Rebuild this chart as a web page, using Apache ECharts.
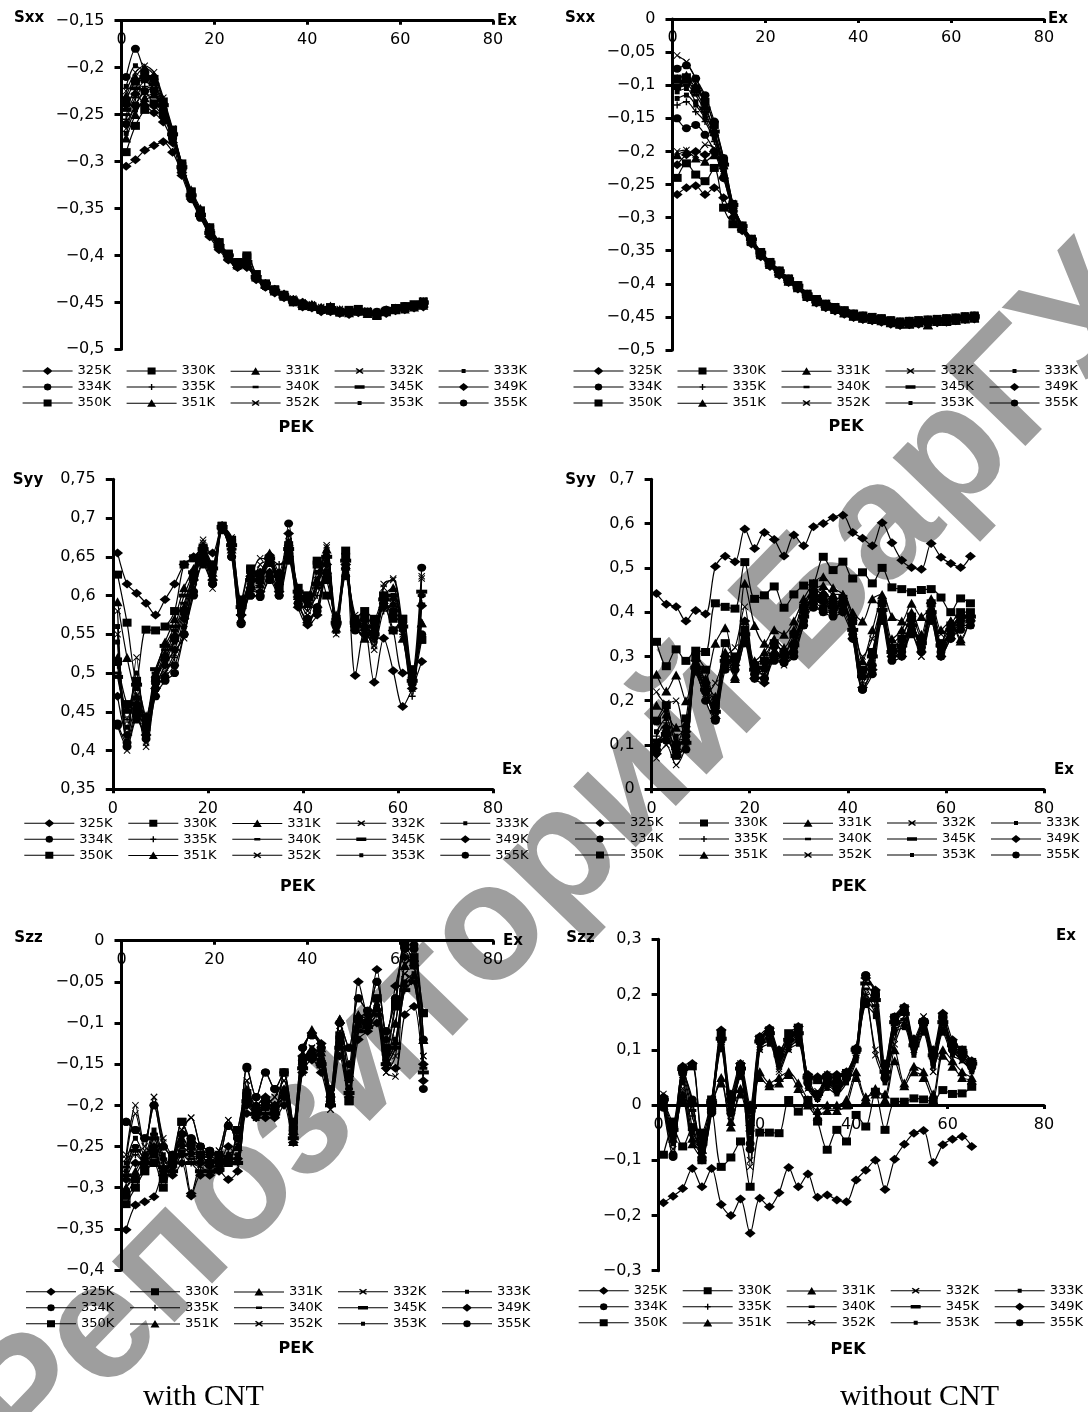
<!DOCTYPE html>
<html>
<head>
<meta charset="utf-8">
<title>Sxx, Syy, Szz vs Ex</title>
<script src="https://cdn.jsdelivr.net/npm/echarts@6/dist/echarts.min.js"></script>
<style>
  html, body { margin: 0; padding: 0; background: #fff; }
  #main { width: 1088px; height: 1412px; }
</style>
</head>
<body>
<div id="main"></div>
<script>
// Ex values of the measured points
var exPoints = [1,3,5,7,9,11,13,15,17,19,21,23,25,27,29,31,33,35,37,39,41,43,45,47,49,51,53,55,57,59,61,63,65];
var seriesNames = ['325K','330K','331K','332K','333K','334K','335K','340K','345K','349K','350K','351K','352K','353K','355K'];

// tick labels
var exTicks = [0, 20, 40, 60, 80];
var sxxWithTicks = [-0.5,-0.45,-0.4,-0.35,-0.3,-0.25,-0.2,-0.15];
var sxxWithoutTicks = [-0.5,-0.45,-0.4,-0.35,-0.3,-0.25,-0.2,-0.15,-0.1,-0.05,0];
var syyWithTicks = [0.35,0.4,0.45,0.5,0.55,0.6,0.65,0.7,0.75];
var syyWithoutTicks = [0,0.1,0.2,0.3,0.4,0.5,0.6,0.7];
var szzWithTicks = [-0.4,-0.35,-0.3,-0.25,-0.2,-0.15,-0.1,-0.05,0];
var szzWithoutTicks = [-0.3,-0.2,-0.1,0,0.1,0.2,0.3];

// Sxx, with CNT (one row per temperature, same order as seriesNames)
var sxxWithCnt = [
  [-0.305,-0.298,-0.288,-0.283,-0.279,-0.29,-0.312,-0.336,-0.355,-0.373,-0.388,-0.4,-0.408,-0.413,-0.422,-0.43,-0.436,-0.441,-0.447,-0.45,-0.453,-0.456,-0.457,-0.46,-0.462,-0.46,-0.461,-0.463,-0.46,-0.458,-0.456,-0.455,-0.452],
  [-0.29,-0.262,-0.245,-0.238,-0.25,-0.272,-0.305,-0.332,-0.352,-0.37,-0.386,-0.398,-0.407,-0.402,-0.42,-0.43,-0.437,-0.444,-0.45,-0.454,-0.455,-0.458,-0.455,-0.46,-0.458,-0.457,-0.46,-0.462,-0.459,-0.456,-0.454,-0.452,-0.449],
  [-0.275,-0.25,-0.232,-0.228,-0.245,-0.268,-0.302,-0.33,-0.35,-0.37,-0.385,-0.4,-0.41,-0.408,-0.423,-0.431,-0.438,-0.442,-0.447,-0.451,-0.454,-0.456,-0.454,-0.458,-0.461,-0.459,-0.462,-0.464,-0.46,-0.458,-0.457,-0.455,-0.453],
  [-0.265,-0.24,-0.226,-0.222,-0.24,-0.27,-0.306,-0.335,-0.356,-0.376,-0.39,-0.403,-0.41,-0.411,-0.424,-0.433,-0.436,-0.443,-0.447,-0.451,-0.453,-0.457,-0.456,-0.458,-0.46,-0.458,-0.459,-0.461,-0.459,-0.457,-0.455,-0.453,-0.45],
  [-0.27,-0.245,-0.235,-0.23,-0.248,-0.274,-0.308,-0.337,-0.358,-0.375,-0.39,-0.401,-0.41,-0.412,-0.425,-0.432,-0.438,-0.444,-0.448,-0.452,-0.455,-0.456,-0.458,-0.459,-0.46,-0.459,-0.46,-0.462,-0.458,-0.457,-0.455,-0.454,-0.452],
  [-0.26,-0.24,-0.225,-0.24,-0.252,-0.276,-0.31,-0.34,-0.36,-0.378,-0.392,-0.404,-0.412,-0.41,-0.423,-0.433,-0.437,-0.442,-0.449,-0.453,-0.454,-0.457,-0.457,-0.46,-0.459,-0.458,-0.461,-0.46,-0.458,-0.456,-0.454,-0.453,-0.45],
  [-0.255,-0.232,-0.22,-0.225,-0.244,-0.272,-0.307,-0.336,-0.357,-0.374,-0.388,-0.401,-0.409,-0.409,-0.422,-0.431,-0.436,-0.443,-0.448,-0.451,-0.453,-0.455,-0.456,-0.459,-0.461,-0.459,-0.46,-0.462,-0.46,-0.457,-0.456,-0.454,-0.451],
  [-0.25,-0.228,-0.215,-0.222,-0.242,-0.27,-0.304,-0.334,-0.355,-0.372,-0.389,-0.402,-0.411,-0.41,-0.424,-0.432,-0.437,-0.443,-0.447,-0.452,-0.454,-0.456,-0.455,-0.458,-0.46,-0.458,-0.459,-0.461,-0.459,-0.458,-0.455,-0.453,-0.451],
  [-0.245,-0.222,-0.21,-0.218,-0.24,-0.271,-0.306,-0.336,-0.357,-0.376,-0.39,-0.4,-0.409,-0.407,-0.423,-0.43,-0.438,-0.444,-0.448,-0.451,-0.455,-0.457,-0.456,-0.459,-0.46,-0.459,-0.461,-0.461,-0.458,-0.457,-0.455,-0.452,-0.45],
  [-0.24,-0.228,-0.24,-0.248,-0.258,-0.28,-0.315,-0.34,-0.358,-0.38,-0.394,-0.405,-0.413,-0.412,-0.426,-0.434,-0.44,-0.445,-0.45,-0.455,-0.456,-0.46,-0.46,-0.462,-0.463,-0.461,-0.462,-0.464,-0.462,-0.459,-0.458,-0.456,-0.455],
  [-0.235,-0.215,-0.21,-0.212,-0.236,-0.266,-0.302,-0.332,-0.356,-0.372,-0.386,-0.399,-0.408,-0.4,-0.42,-0.43,-0.436,-0.442,-0.448,-0.452,-0.454,-0.458,-0.459,-0.461,-0.46,-0.46,-0.461,-0.463,-0.46,-0.458,-0.456,-0.454,-0.452],
  [-0.23,-0.21,-0.2,-0.208,-0.234,-0.268,-0.304,-0.334,-0.354,-0.373,-0.388,-0.401,-0.41,-0.409,-0.422,-0.431,-0.437,-0.443,-0.447,-0.451,-0.452,-0.456,-0.455,-0.458,-0.459,-0.458,-0.46,-0.463,-0.458,-0.456,-0.455,-0.453,-0.449],
  [-0.225,-0.205,-0.198,-0.205,-0.232,-0.265,-0.303,-0.333,-0.356,-0.374,-0.389,-0.4,-0.41,-0.41,-0.423,-0.432,-0.437,-0.441,-0.446,-0.45,-0.452,-0.455,-0.455,-0.457,-0.459,-0.457,-0.459,-0.46,-0.458,-0.456,-0.454,-0.452,-0.448],
  [-0.22,-0.198,-0.205,-0.215,-0.238,-0.27,-0.305,-0.335,-0.355,-0.373,-0.39,-0.402,-0.41,-0.409,-0.424,-0.431,-0.436,-0.443,-0.447,-0.452,-0.453,-0.456,-0.456,-0.459,-0.46,-0.458,-0.46,-0.461,-0.459,-0.457,-0.455,-0.453,-0.45],
  [-0.21,-0.18,-0.205,-0.225,-0.245,-0.273,-0.309,-0.338,-0.358,-0.376,-0.391,-0.403,-0.411,-0.411,-0.424,-0.433,-0.438,-0.443,-0.448,-0.452,-0.454,-0.457,-0.457,-0.459,-0.461,-0.459,-0.46,-0.462,-0.459,-0.457,-0.455,-0.454,-0.452]
];

// Sxx, without CNT
var sxxWithoutCnt = [
  [-0.265,-0.255,-0.252,-0.265,-0.255,-0.27,-0.3,-0.318,-0.338,-0.357,-0.372,-0.386,-0.397,-0.407,-0.42,-0.428,-0.435,-0.44,-0.445,-0.45,-0.453,-0.455,-0.457,-0.46,-0.462,-0.461,-0.46,-0.459,-0.458,-0.456,-0.455,-0.453,-0.452],
  [-0.24,-0.218,-0.235,-0.245,-0.225,-0.285,-0.31,-0.316,-0.337,-0.356,-0.371,-0.384,-0.396,-0.406,-0.419,-0.427,-0.434,-0.439,-0.444,-0.449,-0.452,-0.454,-0.456,-0.459,-0.461,-0.46,-0.459,-0.458,-0.457,-0.456,-0.454,-0.452,-0.45],
  [-0.09,-0.085,-0.1,-0.13,-0.17,-0.22,-0.28,-0.313,-0.334,-0.354,-0.369,-0.382,-0.394,-0.404,-0.417,-0.426,-0.432,-0.437,-0.443,-0.447,-0.45,-0.453,-0.455,-0.458,-0.46,-0.461,-0.458,-0.462,-0.456,-0.457,-0.455,-0.452,-0.451],
  [-0.2,-0.198,-0.205,-0.19,-0.195,-0.23,-0.282,-0.314,-0.335,-0.355,-0.37,-0.383,-0.395,-0.405,-0.418,-0.425,-0.433,-0.438,-0.443,-0.448,-0.451,-0.452,-0.455,-0.457,-0.459,-0.458,-0.457,-0.456,-0.455,-0.454,-0.453,-0.451,-0.45],
  [-0.12,-0.115,-0.13,-0.15,-0.18,-0.225,-0.284,-0.315,-0.336,-0.355,-0.37,-0.383,-0.395,-0.405,-0.418,-0.426,-0.433,-0.438,-0.443,-0.448,-0.451,-0.453,-0.455,-0.458,-0.46,-0.459,-0.458,-0.457,-0.456,-0.455,-0.454,-0.452,-0.451],
  [-0.15,-0.165,-0.16,-0.175,-0.2,-0.24,-0.288,-0.317,-0.337,-0.357,-0.372,-0.385,-0.397,-0.406,-0.419,-0.427,-0.434,-0.44,-0.444,-0.449,-0.452,-0.454,-0.456,-0.459,-0.461,-0.46,-0.459,-0.458,-0.457,-0.456,-0.455,-0.453,-0.452],
  [-0.13,-0.125,-0.14,-0.155,-0.185,-0.23,-0.285,-0.315,-0.335,-0.355,-0.37,-0.383,-0.395,-0.405,-0.418,-0.426,-0.433,-0.438,-0.443,-0.448,-0.451,-0.453,-0.455,-0.458,-0.46,-0.459,-0.458,-0.457,-0.456,-0.455,-0.454,-0.452,-0.451],
  [-0.105,-0.1,-0.115,-0.14,-0.175,-0.225,-0.283,-0.314,-0.334,-0.354,-0.369,-0.382,-0.394,-0.404,-0.417,-0.425,-0.432,-0.437,-0.442,-0.447,-0.45,-0.452,-0.454,-0.457,-0.459,-0.458,-0.457,-0.456,-0.455,-0.454,-0.453,-0.451,-0.45],
  [-0.1,-0.095,-0.11,-0.135,-0.17,-0.22,-0.281,-0.313,-0.333,-0.353,-0.368,-0.381,-0.393,-0.403,-0.416,-0.424,-0.431,-0.436,-0.441,-0.446,-0.449,-0.451,-0.453,-0.456,-0.458,-0.457,-0.456,-0.455,-0.454,-0.453,-0.452,-0.45,-0.449],
  [-0.22,-0.205,-0.2,-0.205,-0.2,-0.24,-0.29,-0.32,-0.34,-0.359,-0.374,-0.387,-0.398,-0.408,-0.421,-0.429,-0.436,-0.441,-0.446,-0.451,-0.454,-0.456,-0.458,-0.461,-0.463,-0.462,-0.461,-0.46,-0.459,-0.458,-0.456,-0.454,-0.453],
  [-0.09,-0.088,-0.105,-0.125,-0.16,-0.215,-0.28,-0.312,-0.332,-0.352,-0.367,-0.38,-0.392,-0.402,-0.415,-0.423,-0.43,-0.435,-0.44,-0.445,-0.448,-0.45,-0.452,-0.455,-0.457,-0.456,-0.455,-0.454,-0.453,-0.452,-0.451,-0.449,-0.448],
  [-0.205,-0.2,-0.21,-0.215,-0.205,-0.235,-0.286,-0.316,-0.336,-0.356,-0.371,-0.384,-0.396,-0.406,-0.419,-0.427,-0.434,-0.439,-0.444,-0.449,-0.452,-0.454,-0.456,-0.459,-0.461,-0.46,-0.459,-0.462,-0.457,-0.456,-0.455,-0.453,-0.452],
  [-0.055,-0.065,-0.09,-0.12,-0.16,-0.21,-0.278,-0.311,-0.331,-0.351,-0.366,-0.379,-0.391,-0.401,-0.414,-0.422,-0.429,-0.434,-0.439,-0.444,-0.447,-0.449,-0.451,-0.454,-0.456,-0.455,-0.454,-0.453,-0.452,-0.451,-0.45,-0.448,-0.447],
  [-0.11,-0.105,-0.125,-0.145,-0.175,-0.228,-0.284,-0.315,-0.335,-0.355,-0.37,-0.383,-0.395,-0.405,-0.418,-0.426,-0.433,-0.438,-0.443,-0.448,-0.451,-0.453,-0.455,-0.458,-0.46,-0.459,-0.458,-0.457,-0.456,-0.455,-0.454,-0.452,-0.451],
  [-0.075,-0.07,-0.09,-0.115,-0.155,-0.21,-0.279,-0.312,-0.332,-0.352,-0.367,-0.38,-0.392,-0.402,-0.415,-0.423,-0.43,-0.435,-0.44,-0.445,-0.448,-0.45,-0.452,-0.455,-0.457,-0.456,-0.455,-0.454,-0.453,-0.452,-0.451,-0.449,-0.448]
];

// Syy, with CNT
var syyWithCnt = [
  [0.655,0.615,0.603,0.59,0.575,0.595,0.615,0.64,0.65,0.66,0.655,0.69,0.665,0.575,0.625,0.63,0.652,0.63,0.68,0.598,0.565,0.585,0.64,0.565,0.645,0.497,0.56,0.488,0.545,0.503,0.457,0.48,0.515],
  [0.627,0.565,0.49,0.556,0.555,0.56,0.58,0.64,0.648,0.662,0.64,0.69,0.672,0.59,0.633,0.62,0.645,0.61,0.66,0.6,0.6,0.645,0.62,0.57,0.658,0.565,0.57,0.55,0.6,0.555,0.57,0.49,0.543],
  [0.592,0.52,0.47,0.445,0.5,0.54,0.57,0.61,0.635,0.665,0.625,0.685,0.66,0.57,0.61,0.615,0.655,0.62,0.67,0.6,0.59,0.62,0.655,0.575,0.64,0.565,0.545,0.555,0.6,0.61,0.545,0.5,0.565],
  [0.58,0.4,0.52,0.41,0.48,0.51,0.53,0.545,0.63,0.672,0.609,0.69,0.675,0.575,0.62,0.648,0.645,0.61,0.67,0.6,0.58,0.62,0.665,0.555,0.635,0.57,0.56,0.53,0.615,0.62,0.55,0.48,0.625],
  [0.54,0.42,0.5,0.42,0.49,0.52,0.54,0.56,0.62,0.655,0.62,0.688,0.66,0.58,0.615,0.62,0.64,0.615,0.66,0.605,0.595,0.63,0.645,0.565,0.645,0.56,0.565,0.545,0.595,0.6,0.56,0.49,0.6],
  [0.432,0.405,0.44,0.42,0.47,0.49,0.5,0.55,0.6,0.645,0.615,0.685,0.65,0.565,0.6,0.6,0.62,0.6,0.645,0.59,0.57,0.585,0.63,0.57,0.625,0.56,0.575,0.56,0.59,0.575,0.56,0.5,0.55],
  [0.51,0.44,0.47,0.43,0.485,0.5,0.52,0.56,0.615,0.65,0.625,0.684,0.655,0.59,0.62,0.63,0.648,0.64,0.65,0.61,0.585,0.6,0.64,0.552,0.63,0.555,0.55,0.54,0.58,0.59,0.55,0.47,0.59],
  [0.5,0.45,0.49,0.44,0.5,0.53,0.555,0.59,0.625,0.655,0.63,0.686,0.66,0.58,0.615,0.625,0.65,0.62,0.655,0.6,0.59,0.61,0.65,0.56,0.64,0.56,0.555,0.545,0.59,0.595,0.555,0.485,0.6],
  [0.495,0.45,0.485,0.445,0.505,0.535,0.56,0.6,0.63,0.66,0.635,0.688,0.665,0.585,0.62,0.63,0.648,0.625,0.66,0.605,0.595,0.615,0.65,0.565,0.645,0.565,0.56,0.55,0.595,0.6,0.56,0.49,0.605],
  [0.47,0.42,0.46,0.42,0.48,0.51,0.53,0.57,0.62,0.65,0.62,0.69,0.66,0.575,0.61,0.605,0.63,0.605,0.65,0.585,0.562,0.575,0.628,0.562,0.64,0.56,0.55,0.56,0.585,0.555,0.5,0.5,0.587],
  [0.515,0.46,0.45,0.43,0.49,0.52,0.545,0.58,0.625,0.66,0.64,0.69,0.668,0.595,0.635,0.625,0.645,0.625,0.665,0.61,0.6,0.64,0.6,0.565,0.65,0.57,0.58,0.57,0.6,0.57,0.57,0.505,0.543],
  [0.52,0.455,0.46,0.44,0.495,0.525,0.55,0.585,0.63,0.66,0.63,0.687,0.664,0.58,0.615,0.62,0.645,0.62,0.66,0.6,0.59,0.62,0.66,0.558,0.638,0.56,0.56,0.55,0.595,0.59,0.565,0.495,0.565],
  [0.55,0.41,0.45,0.405,0.475,0.5,0.525,0.55,0.61,0.668,0.625,0.69,0.672,0.57,0.61,0.64,0.645,0.61,0.665,0.6,0.575,0.61,0.662,0.55,0.63,0.575,0.555,0.535,0.61,0.622,0.56,0.48,0.622],
  [0.56,0.43,0.48,0.425,0.49,0.515,0.54,0.575,0.62,0.658,0.628,0.686,0.662,0.585,0.62,0.625,0.648,0.622,0.66,0.605,0.59,0.615,0.65,0.56,0.64,0.565,0.56,0.545,0.595,0.6,0.56,0.49,0.6],
  [0.435,0.41,0.445,0.415,0.48,0.495,0.51,0.55,0.605,0.64,0.615,0.685,0.65,0.563,0.6,0.598,0.625,0.6,0.693,0.59,0.57,0.58,0.63,0.56,0.635,0.555,0.57,0.565,0.59,0.58,0.565,0.5,0.636]
];

// Syy, without CNT
var syyWithoutCnt = [
  [0.442,0.418,0.412,0.38,0.404,0.396,0.503,0.526,0.514,0.588,0.544,0.58,0.564,0.527,0.574,0.55,0.593,0.6,0.614,0.619,0.58,0.567,0.55,0.602,0.557,0.517,0.501,0.497,0.555,0.524,0.51,0.501,0.526],
  [0.333,0.278,0.316,0.29,0.313,0.31,0.42,0.412,0.408,0.513,0.43,0.438,0.458,0.41,0.44,0.46,0.465,0.525,0.495,0.514,0.476,0.49,0.465,0.5,0.456,0.452,0.445,0.45,0.452,0.433,0.4,0.431,0.42],
  [0.26,0.222,0.258,0.2,0.28,0.25,0.33,0.365,0.255,0.465,0.37,0.33,0.36,0.35,0.38,0.43,0.465,0.48,0.455,0.44,0.4,0.38,0.43,0.44,0.39,0.38,0.42,0.39,0.41,0.33,0.38,0.335,0.39],
  [0.22,0.195,0.2,0.09,0.27,0.215,0.24,0.3,0.32,0.412,0.28,0.3,0.33,0.31,0.34,0.4,0.44,0.45,0.42,0.41,0.37,0.3,0.34,0.41,0.33,0.35,0.38,0.3,0.42,0.35,0.37,0.38,0.4],
  [0.15,0.18,0.12,0.14,0.27,0.23,0.2,0.3,0.3,0.35,0.27,0.28,0.31,0.3,0.33,0.39,0.43,0.43,0.41,0.42,0.36,0.27,0.3,0.4,0.31,0.33,0.37,0.33,0.4,0.32,0.36,0.39,0.39],
  [0.09,0.13,0.1,0.12,0.28,0.22,0.16,0.28,0.27,0.33,0.26,0.25,0.3,0.29,0.31,0.38,0.42,0.41,0.4,0.42,0.35,0.225,0.28,0.39,0.3,0.31,0.36,0.32,0.39,0.31,0.35,0.38,0.38],
  [0.12,0.15,0.08,0.1,0.265,0.225,0.17,0.29,0.28,0.34,0.265,0.26,0.31,0.295,0.32,0.385,0.425,0.42,0.405,0.41,0.355,0.24,0.29,0.395,0.305,0.32,0.365,0.325,0.395,0.315,0.355,0.385,0.385],
  [0.1,0.12,0.07,0.11,0.27,0.22,0.18,0.285,0.29,0.345,0.26,0.27,0.3,0.3,0.32,0.39,0.43,0.42,0.41,0.415,0.36,0.25,0.3,0.4,0.31,0.32,0.37,0.32,0.4,0.32,0.36,0.385,0.39],
  [0.11,0.125,0.075,0.105,0.275,0.225,0.175,0.29,0.295,0.35,0.27,0.275,0.305,0.3,0.325,0.39,0.435,0.425,0.41,0.42,0.36,0.255,0.3,0.405,0.31,0.325,0.37,0.33,0.4,0.325,0.36,0.39,0.39],
  [0.08,0.14,0.09,0.13,0.29,0.24,0.16,0.3,0.28,0.38,0.25,0.24,0.32,0.29,0.33,0.4,0.45,0.44,0.43,0.4,0.34,0.23,0.27,0.42,0.3,0.3,0.38,0.31,0.42,0.3,0.34,0.37,0.38],
  [0.155,0.19,0.1,0.16,0.3,0.27,0.19,0.33,0.3,0.36,0.28,0.29,0.33,0.31,0.35,0.41,0.44,0.43,0.42,0.43,0.38,0.27,0.31,0.42,0.32,0.34,0.39,0.34,0.42,0.33,0.37,0.4,0.4],
  [0.19,0.17,0.14,0.15,0.28,0.24,0.21,0.31,0.25,0.38,0.29,0.31,0.34,0.32,0.36,0.42,0.45,0.46,0.44,0.44,0.39,0.29,0.36,0.43,0.34,0.36,0.4,0.35,0.43,0.36,0.38,0.34,0.39],
  [0.07,0.1,0.055,0.1,0.26,0.21,0.175,0.27,0.3,0.33,0.27,0.26,0.3,0.28,0.31,0.37,0.42,0.4,0.4,0.41,0.35,0.26,0.29,0.38,0.3,0.31,0.35,0.3,0.38,0.3,0.35,0.37,0.37],
  [0.13,0.16,0.11,0.12,0.28,0.23,0.19,0.295,0.29,0.345,0.265,0.27,0.305,0.3,0.33,0.395,0.43,0.425,0.415,0.415,0.365,0.26,0.31,0.4,0.315,0.325,0.37,0.33,0.405,0.32,0.36,0.39,0.39],
  [0.1,0.11,0.085,0.09,0.27,0.2,0.155,0.27,0.27,0.33,0.25,0.25,0.29,0.285,0.3,0.37,0.41,0.4,0.39,0.4,0.34,0.225,0.26,0.38,0.29,0.3,0.35,0.31,0.38,0.3,0.34,0.36,0.37]
];

// Szz, with CNT
var szzWithCnt = [
  [-0.351,-0.321,-0.317,-0.311,-0.28,-0.27,-0.26,-0.307,-0.27,-0.26,-0.27,-0.25,-0.265,-0.2,-0.2,-0.19,-0.2,-0.19,-0.235,-0.14,-0.112,-0.125,-0.19,-0.1,-0.15,-0.05,-0.09,-0.035,-0.12,-0.055,-0.02,-0.03,-0.15],
  [-0.32,-0.3,-0.28,-0.27,-0.3,-0.265,-0.22,-0.25,-0.26,-0.27,-0.265,-0.27,-0.23,-0.19,-0.21,-0.2,-0.21,-0.16,-0.23,-0.15,-0.14,-0.15,-0.195,-0.12,-0.195,-0.095,-0.1,-0.07,-0.135,-0.08,-0.005,-0.03,-0.088],
  [-0.3,-0.28,-0.26,-0.25,-0.28,-0.27,-0.24,-0.255,-0.26,-0.265,-0.27,-0.26,-0.25,-0.18,-0.2,-0.19,-0.2,-0.18,-0.244,-0.14,-0.11,-0.13,-0.19,-0.095,-0.16,-0.09,-0.095,-0.08,-0.145,-0.1,-0.03,-0.02,-0.12],
  [-0.26,-0.2,-0.25,-0.19,-0.24,-0.26,-0.23,-0.215,-0.25,-0.26,-0.255,-0.218,-0.25,-0.17,-0.215,-0.2,-0.19,-0.17,-0.23,-0.155,-0.13,-0.14,-0.205,-0.11,-0.18,-0.1,-0.1,-0.075,-0.16,-0.14,-0.04,-0.05,-0.14],
  [-0.27,-0.24,-0.26,-0.23,-0.26,-0.275,-0.25,-0.26,-0.265,-0.27,-0.27,-0.26,-0.26,-0.185,-0.205,-0.2,-0.2,-0.18,-0.235,-0.15,-0.13,-0.145,-0.195,-0.12,-0.17,-0.1,-0.1,-0.08,-0.14,-0.12,-0.05,-0.04,-0.15],
  [-0.22,-0.23,-0.24,-0.2,-0.25,-0.26,-0.235,-0.24,-0.25,-0.255,-0.26,-0.225,-0.24,-0.153,-0.19,-0.16,-0.18,-0.16,-0.22,-0.13,-0.115,-0.13,-0.18,-0.1,-0.13,-0.07,-0.085,-0.05,-0.11,-0.07,-0.01,-0.01,-0.12],
  [-0.28,-0.26,-0.27,-0.24,-0.27,-0.28,-0.26,-0.27,-0.275,-0.28,-0.275,-0.27,-0.27,-0.2,-0.21,-0.21,-0.205,-0.19,-0.24,-0.155,-0.14,-0.15,-0.2,-0.13,-0.185,-0.11,-0.105,-0.09,-0.15,-0.13,-0.06,-0.05,-0.16],
  [-0.275,-0.25,-0.265,-0.235,-0.265,-0.275,-0.255,-0.265,-0.27,-0.275,-0.272,-0.265,-0.265,-0.19,-0.205,-0.205,-0.2,-0.185,-0.238,-0.15,-0.135,-0.145,-0.195,-0.125,-0.18,-0.105,-0.1,-0.085,-0.145,-0.125,-0.055,-0.045,-0.155],
  [-0.285,-0.255,-0.27,-0.24,-0.275,-0.28,-0.26,-0.27,-0.28,-0.28,-0.278,-0.27,-0.27,-0.195,-0.21,-0.21,-0.21,-0.19,-0.24,-0.155,-0.14,-0.15,-0.2,-0.13,-0.185,-0.11,-0.105,-0.09,-0.15,-0.13,-0.06,-0.05,-0.16],
  [-0.29,-0.27,-0.275,-0.25,-0.285,-0.285,-0.27,-0.31,-0.285,-0.285,-0.28,-0.29,-0.28,-0.21,-0.215,-0.215,-0.215,-0.2,-0.245,-0.16,-0.145,-0.16,-0.2,-0.14,-0.19,-0.12,-0.11,-0.1,-0.155,-0.155,-0.09,-0.08,-0.17],
  [-0.31,-0.29,-0.28,-0.26,-0.29,-0.27,-0.22,-0.245,-0.26,-0.27,-0.26,-0.265,-0.23,-0.185,-0.205,-0.195,-0.205,-0.16,-0.225,-0.145,-0.14,-0.15,-0.19,-0.115,-0.195,-0.095,-0.1,-0.07,-0.13,-0.075,-0.005,-0.02,-0.088],
  [-0.3,-0.285,-0.265,-0.255,-0.28,-0.27,-0.245,-0.255,-0.26,-0.265,-0.27,-0.26,-0.25,-0.185,-0.2,-0.19,-0.2,-0.18,-0.244,-0.145,-0.108,-0.135,-0.19,-0.095,-0.165,-0.09,-0.095,-0.08,-0.145,-0.1,-0.03,-0.02,-0.12],
  [-0.265,-0.21,-0.255,-0.19,-0.245,-0.265,-0.23,-0.215,-0.25,-0.26,-0.255,-0.218,-0.25,-0.17,-0.215,-0.2,-0.19,-0.17,-0.23,-0.16,-0.13,-0.14,-0.205,-0.11,-0.18,-0.1,-0.1,-0.075,-0.16,-0.165,-0.04,-0.05,-0.14],
  [-0.28,-0.25,-0.265,-0.235,-0.265,-0.278,-0.25,-0.26,-0.27,-0.275,-0.272,-0.265,-0.262,-0.19,-0.207,-0.203,-0.2,-0.183,-0.237,-0.152,-0.134,-0.147,-0.197,-0.125,-0.178,-0.104,-0.1,-0.084,-0.146,-0.123,-0.054,-0.043,-0.153],
  [-0.22,-0.23,-0.24,-0.2,-0.25,-0.26,-0.235,-0.24,-0.25,-0.255,-0.26,-0.225,-0.24,-0.155,-0.19,-0.16,-0.18,-0.16,-0.22,-0.13,-0.115,-0.13,-0.18,-0.1,-0.13,-0.07,-0.085,-0.05,-0.11,-0.07,-0.005,-0.005,-0.18]
];

// Szz, without CNT
var szzWithoutCnt = [
  [-0.177,-0.165,-0.151,-0.115,-0.148,-0.115,-0.18,-0.2,-0.17,-0.232,-0.169,-0.184,-0.159,-0.113,-0.148,-0.125,-0.167,-0.163,-0.172,-0.175,-0.136,-0.118,-0.1,-0.153,-0.098,-0.071,-0.051,-0.046,-0.104,-0.072,-0.062,-0.057,-0.075],
  [-0.09,-0.042,-0.075,-0.04,-0.1,-0.009,-0.112,-0.095,-0.066,-0.148,-0.05,-0.05,-0.051,0.009,-0.012,0.009,-0.03,-0.081,-0.045,-0.066,-0.018,-0.039,0.024,-0.045,0.006,0.006,0.012,0.01,0.006,0.027,0.02,0.021,0.033],
  [0,-0.05,0.01,-0.07,-0.08,0,0.04,-0.03,0.02,-0.04,0.06,0.04,0.05,0.06,0.04,0.01,-0.01,0,0,0.01,0.06,0.015,0.02,0.02,0.1,0.04,0.07,0.06,0.02,0.1,0.08,0.06,0.05],
  [0.01,-0.07,0.02,-0.06,-0.09,0.005,0.13,-0.02,0.07,-0.112,0.1,0.12,0.06,0.1,0.12,0.03,0.02,0.05,0.03,0.05,0.09,0.2,0.09,0.05,0.12,0.16,0.1,0.16,0.06,0.14,0.1,0.08,0.07],
  [0.005,-0.06,0.04,-0.05,-0.07,0,0.1,0,0.05,-0.05,0.1,0.11,0.07,0.1,0.11,0.03,0.01,0.03,0.02,0.04,0.08,0.18,0.16,0.04,0.13,0.14,0.09,0.13,0.07,0.13,0.09,0.08,0.06],
  [-0.005,-0.094,0.06,0.01,-0.1,-0.01,0.12,-0.01,0.06,-0.07,0.12,0.135,0.09,0.12,0.13,0.04,0.02,0.04,0.03,0.05,0.1,0.235,0.2,0.05,0.16,0.17,0.11,0.15,0.09,0.16,0.1,0.09,0.07],
  [0,-0.06,0.05,-0.02,-0.08,0,0.11,0,0.06,-0.03,0.11,0.12,0.08,0.11,0.12,0.04,0.01,0.04,0.03,0.05,0.09,0.2,0.17,0.05,0.14,0.15,0.1,0.14,0.08,0.14,0.1,0.09,0.07],
  [0.005,-0.05,0.055,-0.01,-0.075,0.005,0.115,0.005,0.062,-0.02,0.112,0.125,0.085,0.115,0.125,0.045,0.015,0.045,0.035,0.052,0.095,0.21,0.18,0.055,0.145,0.155,0.105,0.145,0.085,0.145,0.105,0.09,0.072],
  [0.01,-0.045,0.065,0,-0.07,0.005,0.12,0.01,0.066,-0.01,0.115,0.13,0.09,0.118,0.13,0.05,0.02,0.05,0.04,0.055,0.1,0.22,0.19,0.06,0.15,0.165,0.108,0.15,0.09,0.15,0.108,0.095,0.075],
  [0.015,-0.04,0.07,0.075,-0.06,0.01,0.136,0.02,0.075,0,0.124,0.139,0.1,0.12,0.142,0.055,0.051,0.055,0.055,0.06,0.103,0.23,0.208,0.07,0.16,0.178,0.12,0.154,0.1,0.166,0.118,0.1,0.08],
  [0.01,-0.03,0.065,0.07,-0.05,0.01,0.13,0.015,0.07,-0.01,0.12,0.135,0.095,0.13,0.14,0.05,0.045,0.05,0.05,0.058,0.1,0.185,0.2,0.075,0.158,0.175,0.115,0.15,0.09,0.16,0.11,0.1,0.078],
  [0,-0.06,0.02,-0.06,-0.08,-0.005,0.05,-0.04,0.03,-0.03,0.05,0.035,0.04,0.055,0.03,0,-0.02,-0.01,-0.01,0,0.05,0.01,0.03,0.01,0.08,0.035,0.06,0.05,0.01,0.09,0.07,0.05,0.045],
  [0.02,-0.08,0.03,-0.07,-0.095,0,0.125,-0.03,0.075,-0.1,0.105,0.125,0.065,0.105,0.125,0.035,0.025,0.055,0.025,0.055,0.092,0.19,0.1,0.06,0.11,0.15,0.1,0.16,0.06,0.14,0.1,0.08,0.065],
  [0,-0.07,0.045,-0.04,-0.085,-0.005,0.105,-0.01,0.055,-0.06,0.105,0.115,0.075,0.105,0.115,0.035,0.01,0.035,0.025,0.045,0.085,0.19,0.165,0.045,0.135,0.145,0.095,0.135,0.075,0.135,0.095,0.085,0.065],
  [0.005,-0.09,0.058,0.005,-0.095,-0.015,0.118,-0.015,0.058,-0.08,0.118,0.132,0.088,0.118,0.128,0.04,0.018,0.038,0.028,0.048,0.098,0.235,0.198,0.048,0.158,0.168,0.108,0.148,0.088,0.158,0.1,0.088,0.068]
];

var FONT = '"DejaVu Sans", sans-serif';

// marker shapes, Excel style
var X_PATH = 'path://M0,1L1,0L5,4L9,0L10,1L6,5L10,9L9,10L5,6L1,10L0,9L4,5Z';
var PLUS_PATH = 'path://M4,0H6V4H10V6H6V10H4V6H0V4H4Z';
var markerSymbols = ['diamond','rect','triangle',X_PATH,'rect','circle',PLUS_PATH,'rect','rect','diamond','rect','triangle',X_PATH,'rect','circle'];
var markerSizes = [[11,9],[9,8],[10,9],7,5,[9,8],7,[8,3],[11,4],[11,9],[9,8],[10,9],7,5,[9,8]];

// legend icons: a 50x10 line with the marker in the middle
var LEGEND_LINE = 'M0,4.5H50V5.5H0Z';
var legendMarks = [
  'M25,1L30,5L25,9L20,5Z',
  'M21,1.5H29V8.5H21Z',
  'M25,1L29.5,8.5H20.5Z',
  'M22,2L25,4L28,2L29,3L26,5L29,7L28,8L25,6L22,8L21,7L24,5L21,3Z',
  'M23,3H27V7H23Z',
  'M25,1.5L27.8,2.3L29,5L27.8,7.7L25,8.5L22.2,7.7L21,5L22.2,2.3Z',
  'M24.3,2H25.7V4.3H28V5.7H25.7V8H24.3V5.7H22V4.3H24.3Z',
  'M22,3.8H28V6.2H22Z',
  'M20,3.3H30V6.7H20Z',
  'M25,1L30,5L25,9L20,5Z',
  'M21,1.5H29V8.5H21Z',
  'M25,1L29.5,8.5H20.5Z',
  'M22,2L25,4L28,2L29,3L26,5L29,7L28,8L25,6L22,8L21,7L24,5L21,3Z',
  'M23,3H27V7H23Z',
  'M25,1.5L27.8,2.3L29,5L27.8,7.7L25,8.5L22.2,7.7L21,5L22.2,2.3Z'
];

var panels = [
  { values: sxxWithCnt, ticks: sxxWithTicks, name: 'Sxx', nameAt: [29, 18],
    grid: {left: 121.5, top: 20.7, width: 371.5, height: 328.6}, xPos: 'top',
    exGap: 4, exLift: 0, legendAt: [22.6, 364], pekAt: [296, 427.5] },
  { values: sxxWithoutCnt, ticks: sxxWithoutTicks, name: 'Sxx', nameAt: [580, 18],
    grid: {left: 672.5, top: 19, width: 371.5, height: 331}, xPos: 'top',
    exGap: 4, exLift: 0, legendAt: [573.5, 364], pekAt: [846, 427] },
  { values: syyWithCnt, ticks: syyWithTicks, name: 'Syy', nameAt: [28, 480],
    grid: {left: 112.8, top: 479.3, width: 380.2, height: 310}, xPos: 'bottom',
    exGap: 9, exLift: 12, legendAt: [24.3, 816.3], pekAt: [297.6, 887] },
  { values: syyWithoutCnt, ticks: syyWithoutTicks, name: 'Syy', nameAt: [580.5, 480],
    grid: {left: 651.6, top: 479.3, width: 392.4, height: 310}, xPos: 'bottom',
    exGap: 10, exLift: 12, legendAt: [575, 816], pekAt: [848.7, 887] },
  { values: szzWithCnt, ticks: szzWithTicks, name: 'Szz', nameAt: [28.5, 938],
    grid: {left: 121.5, top: 940.7, width: 371.5, height: 329.3}, xPos: 'top',
    exGap: 10, exLift: 0, legendAt: [26, 1284.7], pekAt: [296, 1348.5] },
  // x axis crosses at Szz = 0, half way down the plot
  { values: szzWithoutCnt, ticks: szzWithoutTicks, name: 'Szz', nameAt: [580.5, 938],
    grid: {left: 658.6, top: 939.3, width: 385.4, height: 331.4}, xPos: 'bottom', xOffset: -165.7,
    exGap: 12, exLift: 161, legendAt: [578.7, 1283.7], pekAt: [848, 1350] }
];

function tickFormat(v) {
  return String(Math.round(v * 100) / 100).replace('.', ',').replace('-', '\u2212');
}

function label(text, at, font) {
  return {
    type: 'text', x: at[0], y: at[1], z: 10, silent: true,
    style: { text: text, font: font, fill: '#000', textAlign: 'center', textVerticalAlign: 'middle' }
  };
}

var option = {
  backgroundColor: '#fff',
  animation: false,
  grid: [], xAxis: [], yAxis: [], legend: [], series: [],
  graphic: [
    // repository watermark
    { type: 'text', x: 559, y: 861, rotation: 0.8, z: -100, silent: true,
      style: { text: 'Репозиторий БарГУ', font: 'bold 165px "Liberation Sans"', fill: '#9e9e9e',
               textAlign: 'center', textVerticalAlign: 'middle' } },
    label('with CNT', [203.5, 1397], '30px "Liberation Serif"'),
    label('without CNT', [919.5, 1397], '30px "Liberation Serif"')
  ]
};

panels.forEach(function (p, i) {
  var yt = p.ticks;
  option.grid.push(Object.assign({containLabel: false, outerBoundsMode: 'none'}, p.grid));

  option.xAxis.push({
    gridIndex: i, type: 'value', position: p.xPos, offset: p.xOffset || 0,
    min: exTicks[0], max: exTicks[exTicks.length - 1], interval: exTicks[1] - exTicks[0],
    axisLine: { show: true, onZero: false, lineStyle: {color: '#000', width: 3} },
    axisTick: { show: true, inside: p.xPos === 'top', length: 4, lineStyle: {color: '#000', width: 3} },
    axisLabel: { inside: p.xPos === 'top', margin: p.xPos === 'top' ? 11 : 12, color: '#000',
                 fontSize: 16, fontFamily: FONT, formatter: tickFormat },
    splitLine: { show: false },
    name: 'Ex', nameLocation: 'end', nameGap: p.exGap,
    nameTextStyle: { color: '#000', fontSize: 15, fontWeight: 'bold', fontFamily: FONT,
                     verticalAlign: p.exLift ? 'bottom' : 'middle', padding: [0, 0, p.exLift, 0] }
  });

  option.yAxis.push({
    gridIndex: i, type: 'value',
    min: yt[0], max: yt[yt.length - 1], interval: Math.round((yt[1] - yt[0]) * 1000) / 1000,
    axisLine: { show: true, onZero: false, lineStyle: {color: '#000', width: 3} },
    axisTick: { show: true, length: 7, lineStyle: {color: '#000', width: 3} },
    axisLabel: { margin: 17, color: '#000', fontSize: 16, fontFamily: FONT, formatter: tickFormat },
    splitLine: { show: false }
  });

  option.legend.push({
    left: p.legendAt[0], top: p.legendAt[1], width: 520, padding: 0,
    itemWidth: 50, itemHeight: 10, itemGap: 2, selectedMode: false,
    textStyle: { color: '#000', fontSize: 13, fontFamily: FONT, width: 47, lineHeight: 14 },
    data: seriesNames.map(function (n, k) {
      return { name: n, icon: 'path://' + LEGEND_LINE + legendMarks[k] };
    })
  });

  p.values.forEach(function (vals, k) {
    option.series.push({
      name: seriesNames[k], type: 'line', xAxisIndex: i, yAxisIndex: i,
      data: exPoints.map(function (x, j) { return [x, vals[j]]; }),
      symbol: markerSymbols[k], symbolSize: markerSizes[k],
      smooth: 0.3, silent: true, z: 3,
      lineStyle: { color: '#000', width: 1.2 },
      itemStyle: { color: '#000' },
      emphasis: { disabled: true }
    });
  });

  option.graphic.push(label(p.name, p.nameAt, 'bold 15px ' + FONT));
  option.graphic.push(label('PEK', p.pekAt, 'bold 16px ' + FONT));
});

var chart = echarts.init(document.getElementById('main'));
chart.setOption(option);
</script>
</body>
</html>
